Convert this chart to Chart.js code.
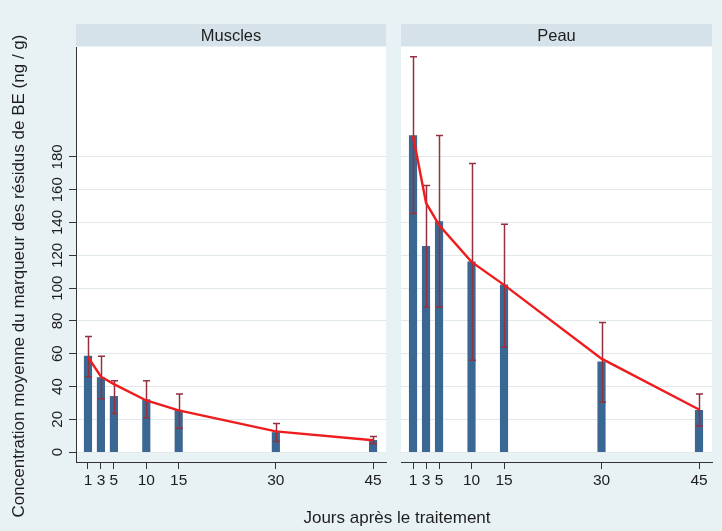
<!DOCTYPE html>
<html>
<head>
<meta charset="utf-8">
<script src="https://cdn.jsdelivr.net/npm/chart.js@4/dist/chart.umd.min.js"></script>
<style>
  html, body { margin: 0; padding: 0; background: #e8f1f4; }
  #wrap { position: relative; width: 722px; height: 531px; overflow: hidden; background: #e8f1f4; }
  #c1 { position: absolute; left: 0; top: 0; }
  #c2 { position: absolute; left: 395px; top: 0; }
  #xtitle { position: absolute; left: 247px; width: 300px; top: 507px; text-align: center;
            font: 17px "Liberation Sans", Arial, sans-serif; color: #1e1e1e; line-height: 22px; }
</style>
</head>
<body>
<div id="wrap">
  <canvas id="c1" width="395" height="531" style="width:395px;height:531px"></canvas>
  <canvas id="c2" width="327" height="531" style="width:327px;height:531px"></canvas>
  <div id="xtitle">Jours après le traitement</div>
</div>
<script>
// ---- data ----
const days = [1, 3, 5, 10, 15, 30, 45];
const yTicks = [0, 20, 40, 60, 80, 100, 120, 140, 160, 180];
const panelNames = ["Muscles", "Peau"];
const yTitle = "Concentration moyenne du marqueur des résidus de BE (ng / g)";

const musclesMean = [58.5, 45.5, 34, 32, 25.5, 12, 7.2];
const musclesLow  = [46, 32.5, 23.5, 21, 14.5, 6.5, 5.2];
const musclesHigh = [70.5, 58.5, 43.5, 43.5, 35.5, 17.5, 9.5];
const musclesFit  = [58, 46, 41.5, 31.5, 25.5, 12.7, 7.3];

const peauMean = [193, 125.5, 140.5, 116, 102, 55, 25.5];
const peauLow  = [145.5, 88.5, 88.5, 56, 64, 30.5, 16];
const peauHigh = [241, 162.5, 193, 176, 139, 79, 35.5];
const peauFit  = [193, 152, 138.5, 116, 102, 57, 26];

// ---- styles ----
const FONT = '"Liberation Sans", Arial, sans-serif';
const BG = '#e8f1f4';
const STRIP = '#d5e2e9';
const BAR = '#3b6793';
const ERR = '#94303f';
const LINE = '#ee1c1c';
const TEXT = '#1e1e1e';

function panelPlugin(name, isLeft) {
  return {
    id: 'panel_' + name,
    beforeDraw(chart) {
      const ctx = chart.ctx, a = chart.chartArea, ys = chart.scales.y;
      ctx.save();
      ctx.fillStyle = BG;
      ctx.fillRect(0, 0, chart.width, chart.height);
      ctx.fillStyle = '#ffffff';
      const y0 = ys.getPixelForValue(0);
      ctx.fillRect(a.left, a.top, a.right - a.left, y0 + 1 - a.top);
      // header strip
      ctx.fillStyle = STRIP;
      ctx.fillRect(a.left, 24, a.right - a.left, 22);
      ctx.fillStyle = TEXT;
      ctx.font = '16.5px ' + FONT;
      ctx.textAlign = 'center';
      ctx.textBaseline = 'middle';
      ctx.fillText(name, (a.left + a.right) / 2, 36);
      ctx.restore();
    },
    afterDatasetDraw(chart, args) {
      if (args.index !== 0) return;
      const ctx = chart.ctx, xs = chart.scales.x, ys = chart.scales.y;
      const lo = chart.data.datasets[0].lo, hi = chart.data.datasets[0].hi;
      ctx.save();
      ctx.strokeStyle = ERR;
      ctx.lineWidth = 1.5;
      days.forEach((d, i) => {
        const x = Math.round(xs.getPixelForValue(d)) + 0.5;
        const yl = ys.getPixelForValue(lo[i]);
        const yh = ys.getPixelForValue(hi[i]);
        ctx.beginPath();
        ctx.moveTo(x, yl); ctx.lineTo(x, yh);
        ctx.moveTo(x - 3.5, yl); ctx.lineTo(x + 3.5, yl);
        ctx.moveTo(x - 3.5, yh); ctx.lineTo(x + 3.5, yh);
        ctx.stroke();
      });
      ctx.restore();
    },
    afterDraw(chart) {
      if (!isLeft) return;
      const ctx = chart.ctx, ys = chart.scales.y;
      ctx.save();
      ctx.fillStyle = TEXT;
      ctx.textAlign = 'center';
      ctx.textBaseline = 'middle';
      ctx.font = '15px ' + FONT;
      yTicks.forEach(v => {
        const y = ys.getPixelForValue(v);
        ctx.save();
        ctx.translate(58, y);
        ctx.rotate(-Math.PI / 2);
        ctx.fillText(String(v), 0, 0);
        ctx.restore();
      });
      ctx.font = '17px ' + FONT;
      ctx.translate(19, 276);
      ctx.rotate(-Math.PI / 2);
      ctx.fillText(yTitle, 0, 0);
      ctx.restore();
    }
  };
}

function makeChart(id, name, mean, lo, hi, fit, isLeft) {
  const yWidth = isLeft ? 76 : 6;
  const rightPad = isLeft ? 9 : 10;
  return new Chart(document.getElementById(id), {
    type: 'bar',
    data: {
      datasets: [
        {
          type: 'bar',
          data: days.map((d, i) => ({ x: d, y: mean[i] })),
          lo: lo, hi: hi,
          backgroundColor: BAR,
          borderWidth: 0,
          barThickness: 7.5,
          order: 2
        },
        {
          type: 'line',
          data: days.map((d, i) => ({ x: d, y: fit[i] })),
          borderColor: LINE,
          borderWidth: 2.4,
          pointRadius: 0,
          tension: 0,
          fill: false,
          order: 1
        }
      ]
    },
    options: {
      responsive: false,
      animation: false,
      devicePixelRatio: 1,
      layout: { padding: { left: 0, right: rightPad, top: 47, bottom: 0 } },
      plugins: { legend: { display: false }, tooltip: { enabled: false }, title: { display: false } },
      scales: {
        x: {
          type: 'linear',
          min: -0.85,
          max: 47,
          offset: false,
          afterBuildTicks: s => { s.ticks = days.map(v => ({ value: v })); },
          afterFit: s => { s.height = 69; s.paddingLeft = 0; s.paddingRight = 0; },
          grid: { offset: false, drawOnChartArea: false, drawTicks: true, tickLength: 7, tickColor: '#333', tickWidth: 1 },
          border: { display: true, color: '#333', width: 1 },
          ticks: { autoSkip: false, maxRotation: 0, minRotation: 0, padding: 2,
                   color: TEXT, font: { family: FONT, size: 15.5 } }
        },
        y: {
          type: 'linear',
          min: -6,
          max: 247,
          afterBuildTicks: s => { s.ticks = yTicks.map(v => ({ value: v })); },
          afterFit: s => { s.width = yWidth; s.paddingTop = 0; s.paddingBottom = 0; },
          grid: { drawOnChartArea: true, color: '#e1e8ec', lineWidth: 1,
                  drawTicks: isLeft, tickLength: 7, tickColor: '#333' },
          border: { display: isLeft, color: '#333', width: 1 },
          ticks: { display: false }
        }
      }
    },
    plugins: [panelPlugin(name, isLeft)]
  });
}

makeChart('c1', panelNames[0], musclesMean, musclesLow, musclesHigh, musclesFit, true);
makeChart('c2', panelNames[1], peauMean, peauLow, peauHigh, peauFit, false);
</script>
</body>
</html>
